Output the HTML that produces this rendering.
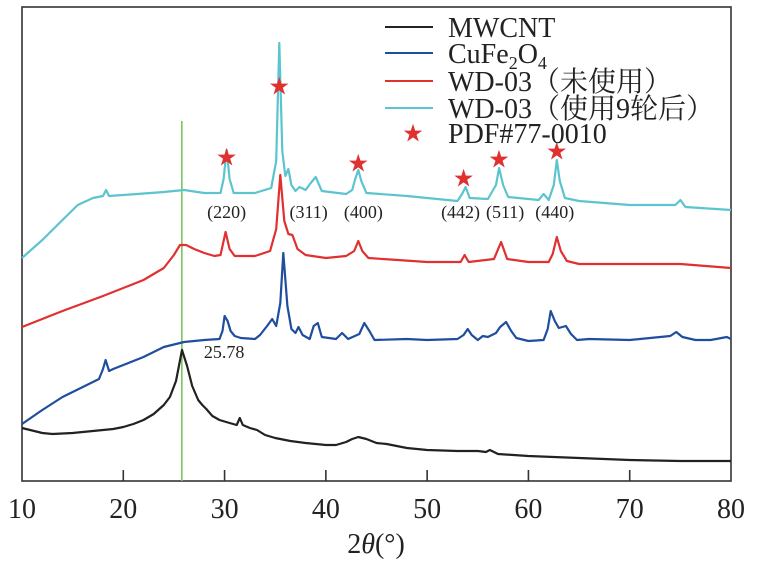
<!DOCTYPE html>
<html><head><meta charset="utf-8"><style>
body{margin:0;background:#fff}
svg text{font-family:"Liberation Serif","Noto Serif CJK SC",serif;fill:#222}
</style></head><body>
<svg id="chart" width="757" height="562" xmlns="http://www.w3.org/2000/svg">
<rect x="22" y="7" width="709" height="474" fill="none" stroke="#333" stroke-width="1.6"/>
<g id="ticks"></g>
<g id="series"></g>
<g id="marks"></g>
<text x="376" y="553" font-size="28" text-anchor="middle">2<tspan font-style="italic">θ</tspan>(°)</text>
<g font-size="28">
<line x1="385" y1="27" x2="433" y2="27" stroke="#222" stroke-width="2"/><text x="448" y="37">MWCNT</text>
<line x1="385" y1="53" x2="433" y2="53" stroke="#1f4e9e" stroke-width="2"/><text x="448" y="63">CuFe<tspan font-size="18" dy="6">2</tspan><tspan dy="-6">O</tspan><tspan font-size="18" dy="6">4</tspan></text>
<line x1="385" y1="81" x2="433" y2="81" stroke="#e03030" stroke-width="2"/><text x="448" y="91">WD-03（未使用）</text>
<line x1="385" y1="108" x2="433" y2="108" stroke="#5cc4cf" stroke-width="2"/><text x="448" y="118">WD-03（使用9轮后）</text>
<text x="413" y="140" font-size="20" style="fill:#e03030" text-anchor="middle">★</text><text x="448" y="143">PDF#77-0010</text>
</g>
</svg>
<script>
const xTicks=[10,20,30,40,50,60,70,80];
const mwcntX=[10,10.8,11.2,12,13,15,17,19,20,21,22,23,24,24.6,25.2,25.8,26.3,26.8,27.4,27.8,28.2,28.8,29.5,30.5,31.2,31.5,31.8,32.5,33.2,34,35,36.5,38,40,41,42,42.6,43.2,44,45,46,48,50,53,55,55.8,56.2,57,60,65,70,75,80];
const mwcntY=[53,51,50,48,47,48,50,52,54,57,61,67,76,84,100,131,115,95,81,76,72,65,61,58,56,63,56,53,51,46,43,40,38,36,36,39,42,44,42,38,37,33,31,30,30,29,31,27,25,23,21,20,20];
const cufeX=[10,12,14,16,17.6,18,18.25,18.6,19,20,22,24,26,28,29.5,29.8,30,30.3,30.6,31,31.6,33,33.5,34.2,34.7,35.1,35.5,35.8,36.2,36.6,37,37.3,37.7,38.4,38.8,39.2,39.6,41,41.6,42.2,43.3,43.8,44.3,44.8,48,50,53,53.6,54,54.4,55,55.5,56,56.8,57.2,57.8,58.3,58.8,60,61.5,61.9,62.2,62.6,63,63.7,64.2,64.8,66,70,74,74.6,75.2,76.5,78,79.6,80];
const cufeY=[57,71,84,94,102,112,121,110,112,116,124,134,139,141,142,150,165,160,150,145,143,142,146,155,162,155,178,228,175,152,148,154,146,142,155,158,144,142,148,142,147,158,150,141,142,141,142,146,152,146,141,145,144,148,154,159,150,143,140,141,152,170,160,153,155,147,141,142,141,145,149,144,141,141,144,142];
const wd0X=[10,14,18,22,24,25,25.6,26.2,27,28,29,29.6,30.1,30.5,31,33,34.5,35.1,35.5,35.9,36.3,36.7,37.2,38,40,42,42.8,43.2,43.6,44.2,50,53.3,53.7,54.1,56.6,57.3,57.9,60,62,62.4,62.8,63.2,63.8,65,70,75,80];
const wd0Y=[154,170,185,201,213,226,236,236,232,228,225,226,249,232,225,225,230,252,306,260,247,246,232,226,223,225,230,240,230,223,219,219,226,219,222,239,222,219,219,227,244,230,220,217,217,217,213];
const wd9X=[10,12,14,15.5,17,18,18.3,18.6,20,24,26,28,29.6,29.9,30.2,30.5,30.9,33,34.6,35.1,35.4,35.7,36,36.3,36.6,37,37.4,38,38.5,39,39.6,42,42.6,42.9,43.2,43.5,44,48,53,53.5,53.8,54.2,56,56.8,57.1,57.5,58,61,61.5,62,62.5,62.8,63.1,63.6,65,70,74.5,75,75.5,80];
const wd9Y=[223,241,261,276,283,285,291,285,286,289,291,288,288,302,331,302,288,288,293,320,438,330,305,312,296,290,294,291,298,304,290,287,291,302,311,300,288,285,280,288,294,283,282,296,313,296,284,281,287,281,296,321,300,283,280,276,276,281,274,271];
const starX=[30.2,35.4,43.2,53.6,57.1,62.8];
const starY=[324,395,318,303,322,330];
const hklLabels=["(220)","(311)","(400)","(442)","(511)","(440)"];
const hklX=[30.2,38.3,43.7,53.3,57.7,62.6];
const NS="http://www.w3.org/2000/svg";
const sx=v=>22+(v-10)*(709/70);
const sy=v=>481-v;
const mk=(t,a)=>{const e=document.createElementNS(NS,t);for(const k in a)e.setAttribute(k,a[k]);return e;};
const tk=document.getElementById('ticks');
xTicks.forEach((t,i)=>{
 if(i>0&&i<xTicks.length-1){const l=mk('line',{x1:sx(t),x2:sx(t),y1:481,y2:470,stroke:'#333','stroke-width':1.6});
 
 
 tk.appendChild(l);}
 const tx=mk('text',{x:sx(t),y:518,'font-size':28,'text-anchor':'middle'});tx.textContent=t;
 
 
 tk.appendChild(tx);
});
const sg=document.getElementById('series');
const vl=mk('line',{x1:sx(25.78),x2:sx(25.78),y1:121,y2:481,stroke:'#7cc45a','stroke-width':1.6});


sg.appendChild(vl);
const lb=mk('text',{x:sx(25.78)+22,y:358,'font-size':18});lb.textContent='25.78';


sg.appendChild(lb);
function draw(xs,ys,c,name){
 const d=xs.map((x,i)=>(i?'L':'M')+sx(x).toFixed(1)+' '+sy(ys[i]).toFixed(1)).join(' ');
 const p=mk('path',{d:d,fill:'none',stroke:c,'stroke-width':2.2,'stroke-linejoin':'round'});
 
 
 sg.appendChild(p);
}
draw(mwcntX,mwcntY,'#222','series-mwcnt');
draw(cufeX,cufeY,'#1f4e9e','series-cufe2o4');
draw(wd0X,wd0Y,'#e03030','series-wd03-unused');
draw(wd9X,wd9Y,'#5cc4cf','series-wd03-used');
const mg=document.getElementById('marks');
starX.forEach((x,i)=>{
 const s=mk('text',{x:sx(x),y:sy(starY[i])+7,'font-size':20,'text-anchor':'middle',style:'fill:#e03030'});s.textContent='★';
 
 
 mg.appendChild(s);
});
hklLabels.forEach((t,i)=>{
 const e=mk('text',{x:sx(hklX[i]),y:218,'font-size':18,'text-anchor':'middle'});e.textContent=t;
 
 
 mg.appendChild(e);
});
</script>
</body></html>
